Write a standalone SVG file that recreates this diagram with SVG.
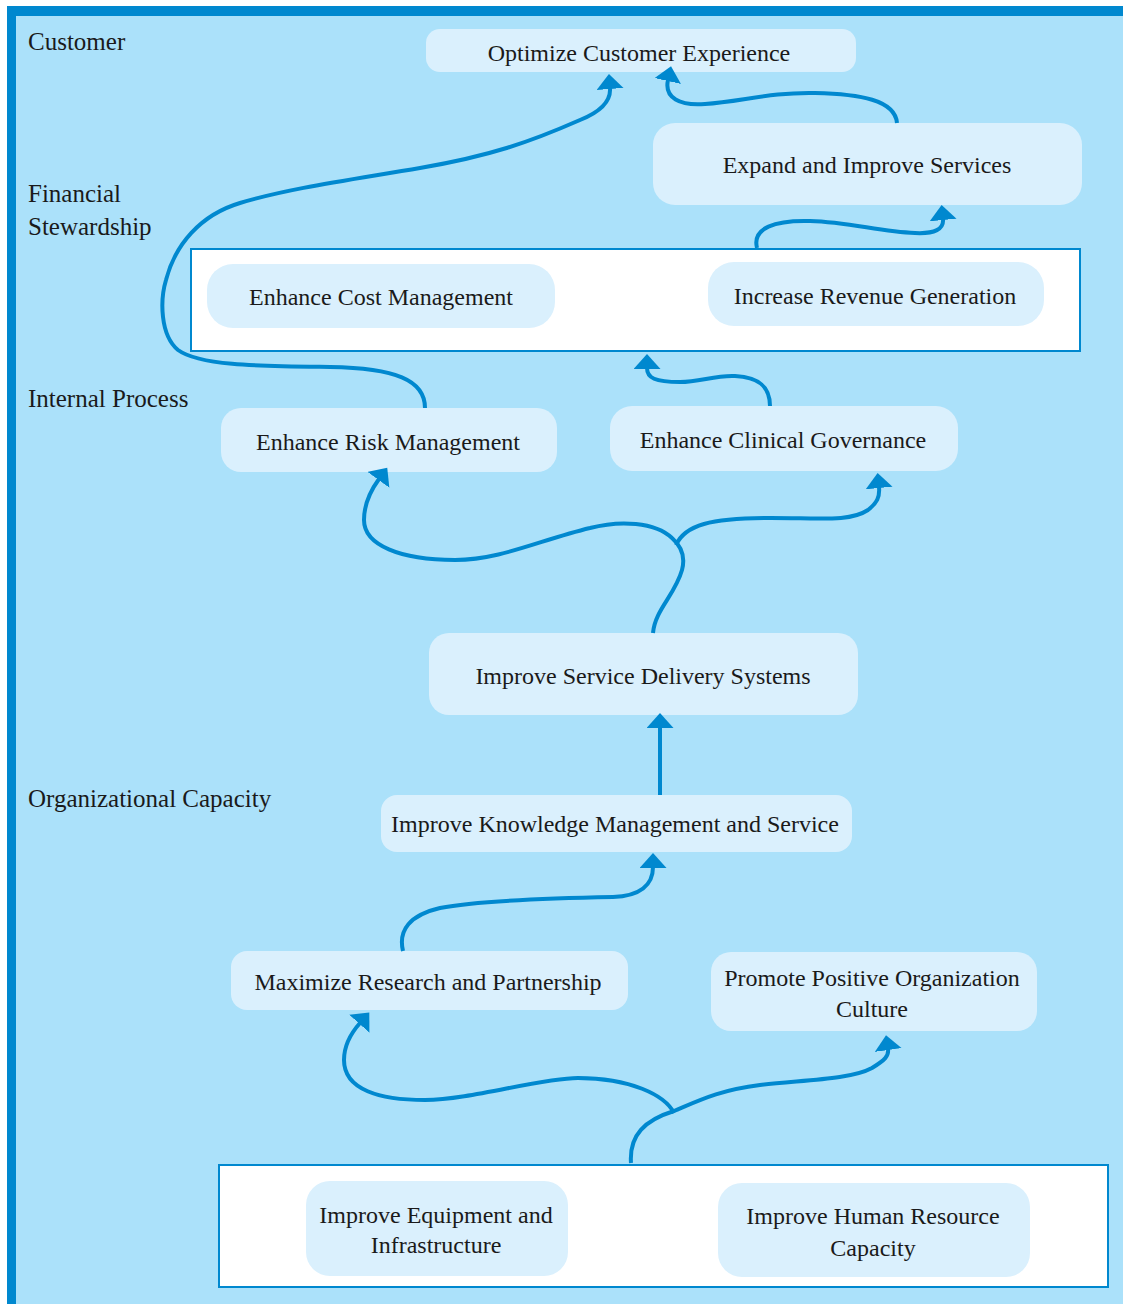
<svg xmlns="http://www.w3.org/2000/svg" width="1123" height="1305" viewBox="0 0 1123 1305">
<defs>
<style>
.bg{fill:#ABE1FA}
.band{fill:#0088CF}
.box{fill:#FFFFFF;stroke:#0088CF;stroke-width:2}
.node{fill:#DAF0FD}
.t{font-family:'Liberation Serif','DejaVu Serif','Times New Roman',serif;font-size:24px;fill:#1a1a1a}
.l{font-size:25px}
.c{text-anchor:middle}
.conn{fill:none;stroke:#0088CF;stroke-width:4;marker-end:url(#ah)}
</style>
<marker id="ah" markerUnits="userSpaceOnUse" markerWidth="16" markerHeight="28" refX="1" refY="13.5" orient="auto">
<path d="M0,0 L15,13.5 L0,27 z" fill="#0088CF"/>
</marker>
</defs>
<rect x="0" y="0" width="1123" height="1305" fill="#FFFFFF"/>
<rect class="bg" x="7" y="6" width="1116" height="1298"/>
<rect class="band" x="7" y="6" width="1116" height="10"/>
<rect class="band" x="7" y="6" width="9" height="1298"/>

<g id="labels">
<text class="t l" x="28" y="50">Customer</text>
<text class="t l" x="28" y="202">Financial</text>
<text class="t l" x="28" y="235">Stewardship</text>
<text class="t l" x="28" y="407">Internal Process</text>
<text class="t l" x="28" y="807">Organizational Capacity</text>
</g>

<g id="financial-box"><rect class="box" x="191" y="249" width="889" height="102"/></g>
<g id="capacity-box"><rect class="box" x="219" y="1165" width="889" height="122"/></g>

<g id="n-optimize"><rect class="node" x="426" y="29" width="430" height="43" rx="14"/><text class="t c" x="639" y="61">Optimize Customer Experience</text></g>
<g id="n-expand"><rect class="node" x="653" y="123" width="429" height="82" rx="22"/><text class="t c" x="867" y="173">Expand and Improve Services</text></g>
<g id="n-cost"><rect class="node" x="207" y="264" width="348" height="64" rx="26"/><text class="t c" x="381" y="305">Enhance Cost Management</text></g>
<g id="n-revenue"><rect class="node" x="708" y="262" width="336" height="64" rx="26"/><text class="t c" x="875" y="304">Increase Revenue Generation</text></g>
<g id="n-risk"><rect class="node" x="221" y="408" width="336" height="64" rx="20"/><text class="t c" x="388" y="450">Enhance Risk Management</text></g>
<g id="n-clinical"><rect class="node" x="610" y="406" width="348" height="65" rx="22"/><text class="t c" x="783" y="448">Enhance Clinical Governance</text></g>
<g id="n-service"><rect class="node" x="429" y="633" width="429" height="82" rx="20"/><text class="t c" x="643" y="684">Improve Service Delivery Systems</text></g>
<g id="n-knowledge"><rect class="node" x="381" y="795" width="471" height="57" rx="16"/><text class="t c" x="615" y="832">Improve Knowledge Management and Service</text></g>
<g id="n-research"><rect class="node" x="231" y="951" width="397" height="59" rx="16"/><text class="t c" x="428" y="990">Maximize Research and Partnership</text></g>
<g id="n-culture"><rect class="node" x="711" y="952" width="326" height="79" rx="20"/><text class="t c" x="872" y="986">Promote Positive Organization</text><text class="t c" x="872" y="1017">Culture</text></g>
<g id="n-equipment"><rect class="node" x="306" y="1181" width="262" height="95" rx="24"/><text class="t c" x="436" y="1223">Improve Equipment and</text><text class="t c" x="436" y="1253">Infrastructure</text></g>
<g id="n-human"><rect class="node" x="718" y="1183" width="312" height="94" rx="24"/><text class="t c" x="873" y="1224">Improve Human Resource</text><text class="t c" x="873" y="1256">Capacity</text></g>

<g id="connectors">
<path class="conn" d="M425,408 C425,380 395,368 330,367 C260,366 200,366 178,350 C160,335 160,300 166,280 C175,245 200,215 240,203 C290,188 350,180 420,168 C490,156 530,142 580,120 C600,112 611,101 610,88"/>
<path class="conn" d="M897,123 C895,100 860,94 815,93 C770,92 740,102 705,104 C680,106 664,98 668,80"/>
<path class="conn" d="M757,248 C752,228 775,220 810,221 C850,222 880,232 915,233 C935,234 944,229 943,219"/>
<path class="conn" d="M770,406 C770,385 757,377 735,376 C715,375 700,382 680,382 C655,382 647,378 647,368"/>
<path class="conn" d="M653,633 C655,610 675,595 682,570 C686,555 680,545 672,538 C655,522 620,520 590,528 C540,540 500,560 455,560 C400,560 364,545 364,520 C364,505 371,490 379,479"/>
<path class="conn" d="M676,545 C685,525 710,518 771,518 C820,518 850,522 868,510 C877,503 880,497 879,487"/>
<path class="conn" d="M660,795 L660,727"/>
<path class="conn" d="M403,951 C398,930 410,915 440,908 C480,900 560,898 613,897 C640,896 653,885 653,867"/>
<path class="conn" d="M631,1163 C629,1135 645,1120 674,1111 C700,1100 720,1090 760,1085 C800,1080 850,1080 872,1068 C885,1060 889,1056 888,1049"/>
<path class="conn" d="M674,1113 C665,1095 630,1078 578,1078 C540,1078 470,1100 425,1100 C380,1100 344,1090 344,1060 C344,1045 352,1032 360,1023"/>
</g>
</svg>
